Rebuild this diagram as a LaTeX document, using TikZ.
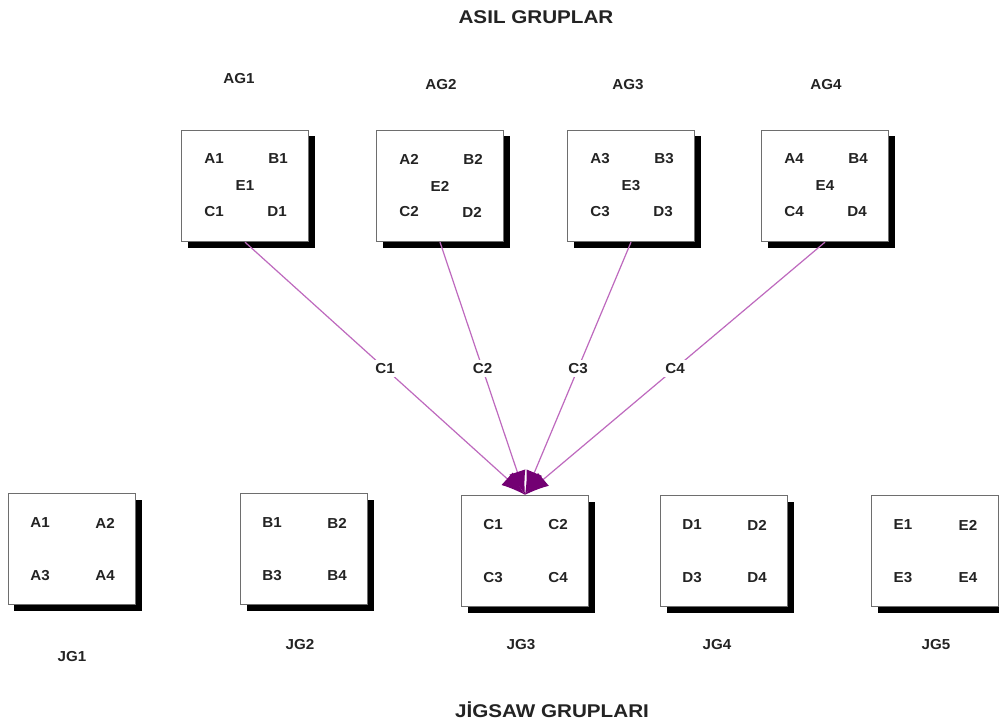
\documentclass[tikz,border=0pt]{standalone}
\usepackage{fontspec}
\setmainfont{Liberation Sans}
\usetikzlibrary{arrows.meta,shadows,calc}
\definecolor{linkline}{RGB}{190,105,190}
\definecolor{linktip}{RGB}{115,0,115}
\definecolor{boxedge}{RGB}{110,110,110}
\definecolor{ink}{RGB}{35,35,35}
\tikzset{
  grp/.style={draw=boxedge, line width=1.3bp, fill=white, minimum width=127bp, minimum height=111bp,
    drop shadow={shadow xshift=6bp, shadow yshift=-6bp, opacity=1, fill=black}},
  lbl/.style={text=ink, font=\bfseries\fontsize{14.5}{17}\selectfont, inner sep=1bp, xscale=1.05},
  ttl/.style={text=ink, font=\bfseries\fontsize{18.5}{21}\selectfont, inner sep=1bp, xscale=1.12},
  link/.style={draw=linkline, line width=1.2bp, -{Latex[length=24bp,width=17bp,color=linktip]}},
  tag/.style={lbl, fill=white, inner sep=3bp}
}
\newcommand{\fivecell}[6]{%
  \node[lbl] at ($(#1)+(-31,-27)$) {#2};
  \node[lbl] at ($(#1)+(33,-27)$) {#3};
  \node[lbl] at ($(#1)+(0,0)$) {#4};
  \node[lbl] at ($(#1)+(-31,26)$) {#5};
  \node[lbl] at ($(#1)+(32,26)$) {#6};}
\newcommand{\fourcell}[5]{%
  \node[lbl] at ($(#1)+(-32,-26)$) {#2};
  \node[lbl] at ($(#1)+(33,-26)$) {#3};
  \node[lbl] at ($(#1)+(-32,27)$) {#4};
  \node[lbl] at ($(#1)+(33,27)$) {#5};}
\begin{document}
\begin{tikzpicture}[x=1bp,y=-1bp]
\useasboundingbox[fill=white] (0,0) rectangle (999,727);

% titles
\node[ttl] (top) at (536,17) {ASIL GRUPLAR};
\node[ttl] (bottom) at (552,710) {JİGSAW GRUPLARI};

% home groups
\node[grp] (ag1) at (245,186) {};
\node[grp] (ag2) at (440,186) {};
\node[grp] (ag3) at (631,186) {};
\node[grp] (ag4) at (825,186) {};
\node[lbl] (ag1t) at (239,79) {AG1};
\node[lbl] (ag2t) at (441,85) {AG2};
\node[lbl] (ag3t) at (628,85) {AG3};
\node[lbl] (ag4t) at (826,85) {AG4};
\fivecell{ag1}{A1}{B1}{E1}{C1}{D1}
\fivecell{ag2}{A2}{B2}{E2}{C2}{D2}
\fivecell{ag3}{A3}{B3}{E3}{C3}{D3}
\fivecell{ag4}{A4}{B4}{E4}{C4}{D4}

% jigsaw groups
\node[grp] (jg1) at (72,549) {};
\node[grp] (jg2) at (304,549) {};
\node[grp] (jg3) at (525,551) {};
\node[grp] (jg4) at (724,551) {};
\node[grp] (jg5) at (935,551) {};
\node[lbl] (jg1t) at (72,657) {JG1};
\node[lbl] (jg2t) at (300,645) {JG2};
\node[lbl] (jg3t) at (521,645) {JG3};
\node[lbl] (jg4t) at (717,645) {JG4};
\node[lbl] (jg5t) at (936,645) {JG5};
\fourcell{jg1}{A1}{A2}{A3}{A4}
\fourcell{jg2}{B1}{B2}{B3}{B4}
\fourcell{jg3}{C1}{C2}{C3}{C4}
\fourcell{jg4}{D1}{D2}{D3}{D4}
\fourcell{jg5}{E1}{E2}{E3}{E4}

% C members moving to the jigsaw group
\draw[link] (ag1.south) -- node[tag, pos=0.5] {C1} (jg3.north);
\draw[link] (ag2.south) -- node[tag, pos=0.5] {C2} (jg3.north);
\draw[link] (ag3.south) -- node[tag, pos=0.5] {C3} (jg3.north);
\draw[link] (ag4.south) -- node[tag, pos=0.5] {C4} (jg3.north);
\end{tikzpicture}
\end{document}
